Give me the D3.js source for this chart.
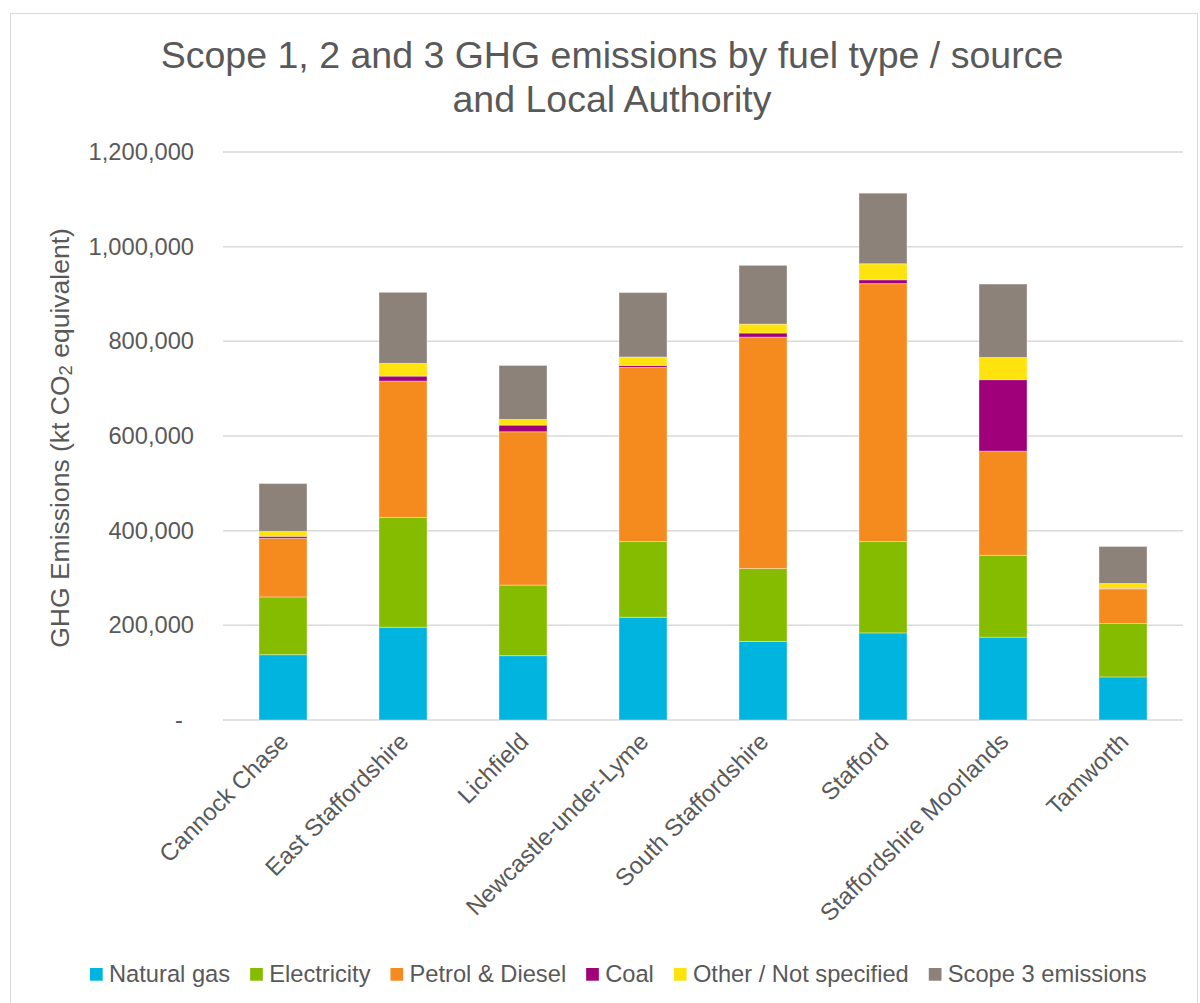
<!DOCTYPE html>
<html>
<head>
<meta charset="utf-8">
<script src="https://cdn.jsdelivr.net/npm/d3@7/dist/d3.min.js"></script>
<style>
  html, body { margin: 0; padding: 0; background: #fff; }
  svg { display: block; }
  text { font-family: "Liberation Sans", Arial, sans-serif; fill: #595959; }
</style>
</head>
<body>
<svg id="chart" width="1200" height="1003"></svg>
<script>
const categories = ["Cannock Chase", "East Staffordshire", "Lichfield", "Newcastle-under-Lyme",
  "South Staffordshire", "Stafford", "Staffordshire Moorlands", "Tamworth"];
const seriesNames = ["Natural gas", "Electricity", "Petrol & Diesel", "Coal", "Other / Not specified", "Scope 3 emissions"];
const seriesColors = ["#00b4e0", "#86bc00", "#f58a1f", "#a0007a", "#ffe30f", "#8c8279"];
const naturalGas   = [138000, 196000, 136000, 217000, 166000, 184000, 175000, 91000];
const electricity  = [122000, 232000, 149000, 160000, 154000, 193000, 173000, 113000];
const petrolDiesel = [124000, 288000, 324000, 368000, 489000, 545000, 220000, 73000];
const coal         = [4000, 10500, 14000, 4000, 8500, 8000, 151000, 1000];
const other        = [10500, 27000, 12000, 18000, 19000, 34000, 47000, 10500];
const scope3       = [101000, 150000, 114000, 136000, 124000, 149000, 155000, 78000];
const yTicks = [0, 200000, 400000, 600000, 800000, 1000000, 1200000];
const titleLines = ["Scope 1, 2 and 3 GHG emissions by fuel type / source", "and Local Authority"];

const seriesValues = [naturalGas, electricity, petrolDiesel, coal, other, scope3];
const rows = categories.map((c, i) => {
  const r = { category: c };
  seriesNames.forEach((s, j) => r[s] = seriesValues[j][i]);
  return r;
});

const svg = d3.select("#chart");
const FONT = '"Liberation Sans", Arial, sans-serif';

// outer border
svg.append("rect").attr("x", 10.5).attr("y", 13.5).attr("width", 1187).attr("height", 1010)
  .attr("fill", "none").attr("stroke", "#d9d9d9").attr("stroke-width", 1);

const x = d3.scaleBand().domain(categories).range([223, 1183]).paddingInner(0.6).paddingOuter(0.3);
const y = d3.scaleLinear().domain([0, 1200000]).range([720, 152]);

// gridlines
svg.append("g").selectAll("line").data(yTicks).join("line")
  .attr("x1", 223).attr("x2", 1183)
  .attr("y1", d => y(d)).attr("y2", d => y(d))
  .attr("stroke", "#d9d9d9").attr("stroke-width", 1.5);

// y axis labels
const yAxis = d3.axisLeft(y).tickValues(yTicks).tickSize(0).tickPadding(0)
  .tickFormat(d => d === 0 ? "-" : d3.format(",")(d));
const yg = svg.append("g").attr("transform", "translate(194,0)").call(yAxis);
yg.select(".domain").remove();
yg.selectAll("text").attr("font-size", 23.7).attr("fill", "#595959").attr("font-family", FONT)
  .attr("dx", d => d === 0 ? -11 : 0);

// stacked bars
const stack = d3.stack().keys(seriesNames);
const stacked = stack(rows);
svg.append("g").selectAll("g").data(stacked).join("g")
  .attr("fill", (d, i) => seriesColors[i])
  .selectAll("rect").data(d => d).join("rect")
  .attr("x", d => x(d.data.category))
  .attr("width", x.bandwidth())
  .attr("y", d => y(d[1]))
  .attr("height", d => Math.max(0, y(d[0]) - y(d[1])))
  .attr("stroke", "#ffffff").attr("stroke-opacity", 0.35).attr("stroke-width", 1);

// x axis labels
const xAxis = d3.axisBottom(x).tickSize(0).tickPadding(0);
const xg = svg.append("g").attr("transform", "translate(0,737)").call(xAxis);
xg.select(".domain").remove();
xg.selectAll("text")
  .attr("font-size", 24).attr("fill", "#595959").attr("font-family", FONT)
  .attr("text-anchor", "end")
  .attr("x", 0).attr("y", 0).attr("dy", "0.35em")
  .attr("transform", "translate(1,0) rotate(-45)");

// title
svg.append("g").selectAll("text").data(titleLines).join("text")
  .attr("x", 612).attr("y", (d, i) => 68 + i * 44)
  .attr("text-anchor", "middle").attr("font-size", 37.5).attr("fill", "#595959")
  .text(d => d);

// y axis title
const yt = svg.append("text")
  .attr("transform", "translate(69,438) rotate(-90)")
  .attr("text-anchor", "middle").attr("font-size", 26.5).attr("fill", "#595959");
yt.append("tspan").text("GHG Emissions (kt CO");
yt.append("tspan").attr("font-size", 18.5).attr("dy", 3).text("2");
yt.append("tspan").attr("dy", -3).text(" equivalent)");

// legend
const legend = svg.append("g");
let lx = 90;
seriesNames.forEach((s, i) => {
  legend.append("rect").attr("x", lx).attr("y", 968).attr("width", 12.7).attr("height", 12.7)
    .attr("fill", seriesColors[i]);
  const t = legend.append("text").attr("x", lx + 19).attr("y", 981.5)
    .attr("font-size", 23.7).attr("fill", "#595959").text(s);
  lx += 19 + t.node().getComputedTextLength() + 20;
});
</script>
</body>
</html>
